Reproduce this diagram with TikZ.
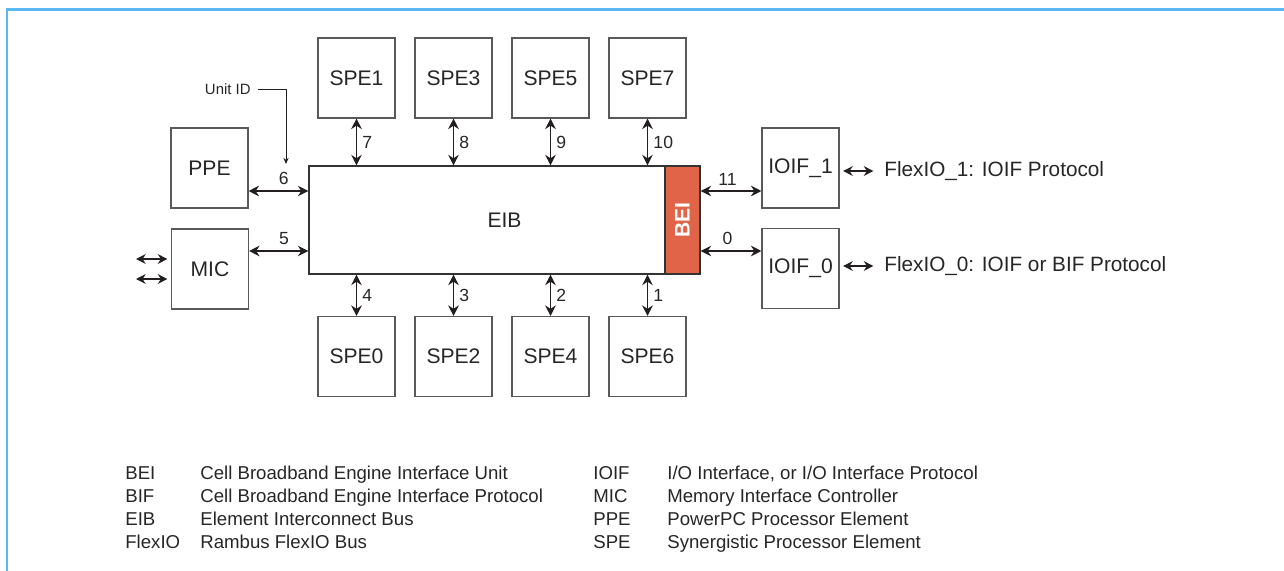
\documentclass[tikz,border=0pt]{standalone}
\usepackage{fontspec}
\setmainfont{Liberation Sans}
\usetikzlibrary{arrows.meta}

\definecolor{beired}{RGB}{224,100,72}
\definecolor{frameblue}{RGB}{91,184,245}
\definecolor{ink}{RGB}{35,31,32}

\begin{document}
\begin{tikzpicture}[
    x=0.02cm, y=-0.02cm,
    unit/.style={rectangle, draw=black!65, line width=0.6pt, minimum width=1.54cm, minimum height=1.6cm, inner sep=0pt, align=center, text=black!85, font=\fontsize{12}{14}\selectfont},
    bus/.style={rectangle, draw=black!80, line width=0.7pt, minimum width=7.82cm, minimum height=2.16cm, text=black!85, font=\fontsize{12}{14}\selectfont},
    iface/.style={rectangle, draw=black!80, line width=0.7pt, fill=beired, minimum width=0.7cm, minimum height=2.16cm, inner sep=0pt, text=white, font=\fontsize{12}{14}\selectfont\bfseries},
    num/.style={inner sep=3pt, text=black!85, font=\fontsize{10}{12}\selectfont},
    tag/.style={inner sep=4pt, text=black!85, font=\fontsize{8.5}{10}\selectfont},
    proto/.style={anchor=west, inner sep=0pt, text=black!85, font=\fontsize{11.8}{13}\selectfont},
    abbr/.style={anchor=base west, inner sep=0pt, text=black!85, font=\fontsize{10.6}{12}\selectfont},
    darrow/.style={{Stealth[length=6pt,width=6pt]}-{Stealth[length=6pt,width=6pt]}, line width=0.8pt, draw=ink},
    sarrow/.style={{Stealth[length=5.5pt,width=5.5pt]}-{Stealth[length=5.5pt,width=5.5pt]}, line width=0.7pt, draw=ink},
    pointer/.style={-{Stealth[length=3.5pt,width=3pt]}, line width=0.5pt, draw=ink}
]
    \useasboundingbox (0,0) rectangle (1284,571);

    % frame
    \draw[frameblue, line width=1.4pt] (7,571) -- (7,9.5) -- (1284,9.5);

    % EIB with BEI at its right end
    \node[bus] (eib) at (504.5,220) {EIB};
    \node[iface, anchor=east] (bei) at (eib.east) {\rotatebox{90}{BEI}};

    % SPEs above
    \node[unit] (spe1) at (356.5,78) {SPE1};
    \node[unit] (spe3) at (453.5,78) {SPE3};
    \node[unit] (spe5) at (550.5,78) {SPE5};
    \node[unit] (spe7) at (647.5,78) {SPE7};

    % SPEs below
    \node[unit] (spe0) at (356.5,356.5) {SPE0};
    \node[unit] (spe2) at (453.5,356.5) {SPE2};
    \node[unit] (spe4) at (550.5,356.5) {SPE4};
    \node[unit] (spe6) at (647.5,356.5) {SPE6};

    % left and right units
    \node[unit] (ppe) at (209.5,168) {PPE};
    \node[unit] (mic) at (210,269) {MIC};
    \node[unit] (ioif1) at (800.5,168) {IOIF\_1};
    \node[unit] (ioif0) at (800.5,268.5) {IOIF\_0};

    \node[proto] (flex1) at (884,171) {FlexIO\_1: IOIF Protocol};
    \node[proto] (flex0) at (884,266) {FlexIO\_0: IOIF or BIF Protocol};

    % unit ID pointer
    \node[tag, anchor=east] (unitid) at (258,89) {Unit ID};
    \coordinate (uidtip) at (286,164);
    \draw[pointer] (unitid.east) -| (uidtip);

    % ring ports
    \draw[darrow] (spe1.south) -- (spe1.south |- eib.north) node[num, midway, right] {7};
    \draw[darrow] (spe3.south) -- (spe3.south |- eib.north) node[num, midway, right] {8};
    \draw[darrow] (spe5.south) -- (spe5.south |- eib.north) node[num, midway, right] {9};
    \draw[darrow] (spe7.south) -- (spe7.south |- eib.north) node[num, midway, right] {10};

    \draw[darrow] (spe0.north) -- (spe0.north |- eib.south) node[num, midway, right] {4};
    \draw[darrow] (spe2.north) -- (spe2.north |- eib.south) node[num, midway, right] {3};
    \draw[darrow] (spe4.north) -- (spe4.north |- eib.south) node[num, midway, right] {2};
    \draw[darrow] (spe6.north) -- (spe6.north |- eib.south) node[num, midway, right] {1};

    \coordinate (lane6) at (0,191);
    \coordinate (lane5) at (0,251);
    \draw[darrow] (ppe.east |- lane6) -- (eib.west |- lane6) node[num, midway, above, xshift=3pt] {6};
    \draw[darrow] (mic.east |- lane5) -- (eib.west |- lane5) node[num, midway, above, xshift=3pt] {5};
    \draw[darrow] (bei.east |- lane6) -- (ioif1.west |- lane6) node[num, midway, above, xshift=-2pt] {11};
    \draw[darrow] (bei.east |- lane5) -- (ioif0.west |- lane5) node[num, midway, above, xshift=-2pt] {0};

    % external links
    \coordinate (memA) at (136,259);
    \coordinate (memB) at (136,279);
    \draw[sarrow, shorten >=2pt] (memA) -- (mic.west |- memA);
    \draw[sarrow, shorten >=2pt] (memB) -- (mic.west |- memB);
    \draw[sarrow, shorten <=2pt, shorten >=6pt] (ioif1.east |- flex1) -- (flex1.west);
    \draw[sarrow, shorten <=2pt, shorten >=6pt] (ioif0.east |- flex0) -- (flex0.west);

    % legend
    \node[abbr] (kbei) at (125,479) {BEI};
    \node[abbr] (dbei) at (200,479) {Cell Broadband Engine Interface Unit};
    \node[abbr] (kbif) at (125,502) {BIF};
    \node[abbr] (dbif) at (200,502) {Cell Broadband Engine Interface Protocol};
    \node[abbr] (keib) at (125,525) {EIB};
    \node[abbr] (deib) at (200,525) {Element Interconnect Bus};
    \node[abbr] (kflex) at (125,548) {FlexIO};
    \node[abbr] (dflex) at (200,548) {Rambus FlexIO Bus};

    \node[abbr] (kioif) at (593,479) {IOIF};
    \node[abbr] (dioif) at (667,479) {I/O Interface, or I/O Interface Protocol};
    \node[abbr] (kmic) at (593,502) {MIC};
    \node[abbr] (dmic) at (667,502) {Memory Interface Controller};
    \node[abbr] (kppe) at (593,525) {PPE};
    \node[abbr] (dppe) at (667,525) {PowerPC Processor Element};
    \node[abbr] (kspe) at (593,548) {SPE};
    \node[abbr] (dspe) at (667,548) {Synergistic Processor Element};
\end{tikzpicture}
\end{document}
